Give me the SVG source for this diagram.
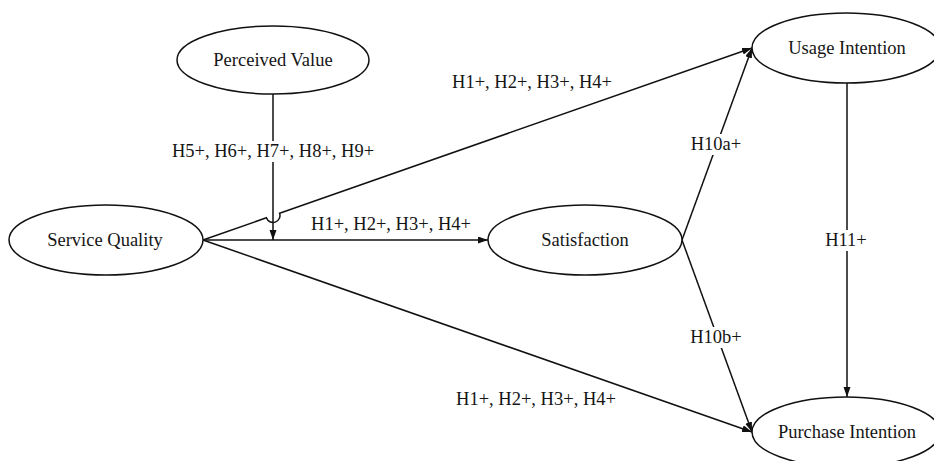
<svg xmlns="http://www.w3.org/2000/svg" width="934" height="461" viewBox="0 0 934 461">
<style>
.node ellipse{fill:#fff;stroke:#111;stroke-width:1.5}
text{font-family:"Liberation Serif","Times New Roman",serif;font-size:18.5px;fill:#151515;text-anchor:middle}
.edge{fill:none;stroke:#111;stroke-width:1.5}
.lblbg{fill:#fff}
</style>
<defs>
<marker id="arr" markerUnits="userSpaceOnUse" markerWidth="11" markerHeight="8" refX="10" refY="3.5" orient="auto">
<path d="M0,0 L10,3.5 L0,7 z" fill="#111"/>
</marker>
</defs>
<g id="connectors">
<path class="edge" d="M273,94 L273,240" marker-end="url(#arr)"/>
<path class="edge" d="M203,240 L488,240" marker-end="url(#arr)"/>
<path class="edge" d="M203,240 L266.4,217.8 A6.5,6.5 0 0 0 279.6,213.2 L752,48" marker-end="url(#arr)"/>
<path class="edge" d="M203,240 L752,432" marker-end="url(#arr)"/>
<path class="edge" d="M682,240 L752,48" marker-end="url(#arr)"/>
<path class="edge" d="M682,240 L752,432" marker-end="url(#arr)"/>
<path class="edge" d="M847,83 L847,397" marker-end="url(#arr)"/>
<rect class="lblbg" x="170" y="141" width="206" height="21"/>
<text x="273" y="157">H5+, H6+, H7+, H8+, H9+</text>
<text x="391" y="230">H1+, H2+, H3+, H4+</text>
<text x="532" y="88">H1+, H2+, H3+, H4+</text>
<text x="536" y="405">H1+, H2+, H3+, H4+</text>
<rect class="lblbg" x="688" y="134" width="56" height="21"/>
<text x="716" y="150">H10a+</text>
<rect class="lblbg" x="688" y="327" width="56" height="21"/>
<text x="716" y="343">H10b+</text>
<rect class="lblbg" x="824" y="230" width="46" height="21"/>
<text x="846" y="246">H11+</text>
</g>
<g id="perceived-value" class="node">
<ellipse cx="273" cy="60" rx="96" ry="34"/>
<text x="273" y="66">Perceived Value</text>
</g>
<g id="service-quality" class="node">
<ellipse cx="106" cy="240" rx="97" ry="35"/>
<text x="105" y="246">Service Quality</text>
</g>
<g id="satisfaction" class="node">
<ellipse cx="585" cy="240" rx="97" ry="35"/>
<text x="585" y="246">Satisfaction</text>
</g>
<g id="usage-intention" class="node">
<ellipse cx="846" cy="48" rx="94" ry="35"/>
<text x="847" y="54">Usage Intention</text>
</g>
<g id="purchase-intention" class="node">
<ellipse cx="846" cy="432" rx="94" ry="35"/>
<text x="847" y="438">Purchase Intention</text>
</g>
</svg>
